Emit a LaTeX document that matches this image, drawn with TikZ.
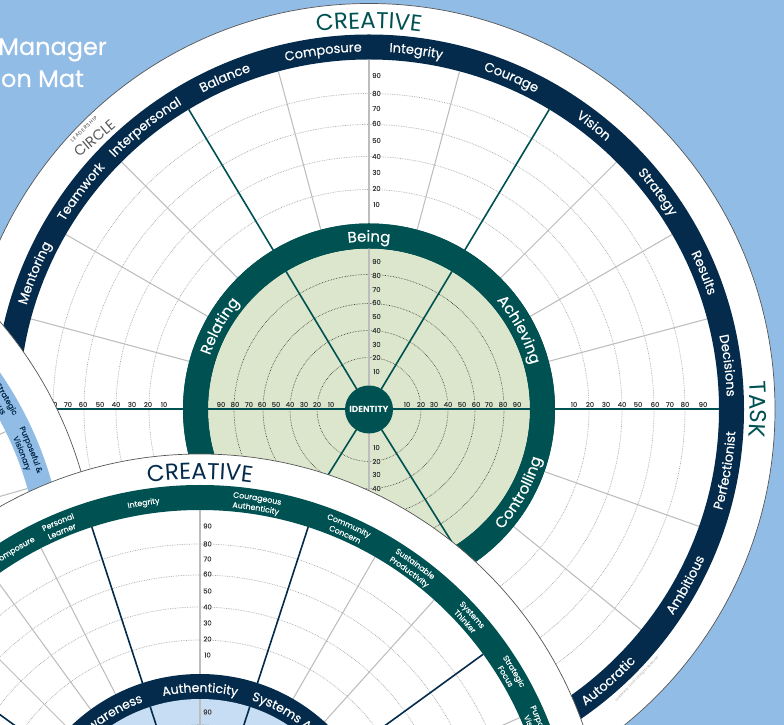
\documentclass[tikz,border=0pt]{standalone}
\usepackage{fontspec}
\setmainfont{Poppins}
\newfontfamily\medf[FakeBold=0.35]{Poppins}
\newfontfamily\logof[LetterSpace=16]{Poppins}
\usetikzlibrary{decorations.text,calc}
\definecolor{skyb}{HTML}{91BCE6}
\definecolor{navyb}{HTML}{052B4C}
\definecolor{tealb}{HTML}{005252}
\definecolor{greend}{HTML}{DBE6CC}
\definecolor{blued}{HTML}{C6DDF3}
\definecolor{grayl}{HTML}{BDBDBD}
\definecolor{grayd}{HTML}{A8A8A8}
\definecolor{outl}{HTML}{555555}
\definecolor{scalet}{HTML}{3A3A3A}
\tikzset{
  x=1pt,y=1pt,
  outerdisc/.style={fill=white,draw=outl,line width=.7pt},
  dotarc/.style={draw=grayd,line width=.7pt,densely dotted},
  dotdark/.style={draw=black!80,line width=.6pt,densely dotted},
  spokegray/.style={draw=grayl,line width=1.05pt},
  scalelab/.style={font=\medf\fontsize{6.8}{7}\selectfont,text=scalet,inner sep=.6pt}
}
% centre, radius, mid angle, size, colour, text: reads clockwise
\newcommand{\cwtext}[6]{\path[decorate,decoration={text along path,text align=center,text color=#5,text={|\medf\fontsize{#4}{#4}\selectfont|#6}}]
  ($(#1)+(#3+40:#2)$) arc[start angle=#3+40,end angle=#3-40,radius=#2];}
% same, reads counter-clockwise
\newcommand{\ccwtext}[6]{\path[decorate,decoration={text along path,text align=center,text color=#5,text={|\medf\fontsize{#4}{#4}\selectfont|#6}}]
  ($(#1)+(#3-40:#2)$) arc[start angle=#3-40,end angle=#3+40,radius=#2];}
% light heading, reads clockwise
\newcommand{\headtext}[5]{\path[decorate,decoration={text along path,text align=center,text color=#4,text={|\fontsize{23}{23}\selectfont|#5}}]
  ($(#1)+(#3+40:#2)$) arc[start angle=#3+40,end angle=#3-40,radius=#2];}
% disc with its rings: centre, outer ring colour, inner ring colour, inner disc colour, bold spoke colour, gray spokes, bold spokes
\newcommand{\wheel}[7]{
  \fill[outerdisc] (#1) circle (406);
  \foreach \r in {220,253,285,316} \draw[dotarc] (#1) circle (\r);
  \foreach \a in {#6} \draw[spokegray] ($(#1)+(\a:161)$) -- ($(#1)+(\a:350)$);
  \foreach \a in {#7} {\draw[#5,line width=1.6pt] ($(#1)+(\a:186)$) -- ($(#1)+(\a:350)$);}
  \fill[#2,even odd rule] (#1) circle (375) circle (350);
  \fill[#3] (#1) circle (186);
  \fill[#4] (#1) circle (161);
  \foreach \r in {52,79,106,135} \draw[dotdark] (#1) circle (\r);
  \draw[spokegray] ($(#1)+(0,24)$) -- ($(#1)+(0,161)$);
  \draw[spokegray] ($(#1)+(0,-24)$) -- ($(#1)+(0,-161)$);
  \foreach \a in {#7} {\draw[#5,line width=1.6pt] ($(#1)+(\a:24)$) -- ($(#1)+(\a:161)$);}
}
\begin{document}
\begin{tikzpicture}
\useasboundingbox (0,0) rectangle (784,725);
\clip (0,0) rectangle (784,725);
\fill[skyb] (0,0) rectangle (784,725);
\coordinate (big) at (369,315.5);
\coordinate (lft) at (-309,140);
\coordinate (frt) at (200,-135);
% title
\node[anchor=base east,text=white,inner sep=0,font=\medf\fontsize{24}{26}\selectfont] (t1) at (107,670) {Manager};
\node[anchor=base east,text=white,inner sep=0,font=\medf\fontsize{24}{26}\selectfont] (t2) at (84,638) {on Mat};
% ---------- main wheel
\wheel{big}{navyb}{tealb}{greend}{tealb}{15,30,45,75,90,105,135,150,165,-19.5,-39}{59,121,-58,-122}
\foreach \v/\r in {10/205,20/221,30/237,40/253,50/269,60/286,70/301,80/316,90/334} {
  \node[scalelab,fill=white] at ($(big)+(7.5,\r)$) {\v};
  \node[scalelab,fill=white] at ($(big)+(\r,5)$) {\v};
}
\foreach \v/\r in {10/205,20/221,30/237,40/253,50/269,60/286,70/301,80/316}
  \node[scalelab,fill=white] at ($(big)+(-\r,5)$) {\v};
\foreach \v/\r in {10/38,20/52,30/65,40/79,50/93,60/107,70/120,80/134,90/148} {
  \node[scalelab,fill=greend] at ($(big)+(7.5,\r)$) {\v};
  \node[scalelab,fill=greend] at ($(big)+(\r,5)$) {\v};
  \node[scalelab,fill=greend] at ($(big)+(-\r,5)$) {\v};
}
\foreach \v/\r in {10/38,20/52,30/65,40/79}
  \node[scalelab,fill=greend] at ($(big)+(7.5,-\r)$) {\v};
\draw[tealb,line width=2.2pt] ($(big)+(24,.3)$) -- ($(big)+(350,.3)$);
\draw[tealb,line width=2.2pt] ($(big)+(-24,.3)$) -- ($(big)+(-350,.3)$);
\fill[tealb] (big) circle (24);
\node[text=white,inner sep=0,font=\fontsize{8.8}{9}\selectfont\bfseries] (idn) at (big) {IDENTITY};
\fill[tealb,even odd rule] (big) circle (186) circle (161);
\headtext{big}{381}{90}{tealb}{CREATIVE}
\headtext{big}{381}{0}{tealb}{TASK}
\foreach \l/\a in {Composure/97.3,Integrity/82.5,Courage/66.8,Vision/51.6,Strategy/37,Results/22.2,Decisions/7,Balance/113.5,Interpersonal/128.4,Teamwork/142.9,Mentoring/157.8}
  {\cwtext{big}{358}{\a}{13}{white}{\l}}
\foreach \l/\a in {Perfectionist/-9.7,Ambitious/-29,Autocratic/-48.6}
  {\ccwtext{big}{367}{\a}{13}{white}{\l}}
\foreach \l/\a in {Being/90,Relating/150.8,Achieving/28}
  {\cwtext{big}{168}{\a}{15}{white}{\l}}
\ccwtext{big}{179}{-29}{15}{white}{Controlling}
\node[rotate=46,inner sep=0,text=black!35,font=\fontsize{3.2}{3}\selectfont] (cpy) at (637,46) {Leadership Circle | All Rights Reserved};
\node[rotate=44,inner sep=0,text=black!75,font=\logof\fontsize{5}{6}\selectfont] (lg1) at (84,596) {LEADERSHIP};
\node[rotate=40,inner sep=0,text=black!65,font=\fontsize{14.5}{15}\selectfont] (lg2) at (94.5,586.5) {CIRCLE};
% ---------- left wheel
\wheel{lft}{skyb}{navyb}{blued}{navyb}{16,26}{36}
\cwtext{lft}{364}{30.5}{7.8}{navyb}{Strategic}
\cwtext{lft}{354}{30.5}{7.8}{navyb}{Focus}
\cwtext{lft}{364}{21.7}{7.8}{navyb}{Purposeful {\&}}
\cwtext{lft}{354}{21.7}{7.8}{navyb}{Visionary}
% ---------- front wheel
\wheel{frt}{tealb}{navyb}{blued}{navyb}{90,60,48,24,12,117,126,135}{72,108,36,144}
\foreach \v/\r in {10/205,20/221,30/237,40/253,50/269,60/286,70/301,80/316,90/334}
  \node[scalelab,fill=white] at ($(frt)+(7.5,\r)$) {\v};
\node[scalelab,fill=blued] at ($(frt)+(7.5,148)$) {90};
\headtext{frt}{381}{90}{navyb}{CREATIVE}
\cwtext{frt}{359}{99}{7.8}{white}{Integrity}
\cwtext{frt}{359}{121}{7.8}{white}{Composure}
\cwtext{frt}{364}{112.8}{7.8}{white}{Personal}
\cwtext{frt}{354}{112.8}{7.8}{white}{Learner}
\cwtext{frt}{364}{81}{7.8}{white}{Courageous}
\cwtext{frt}{354}{81}{7.8}{white}{Authenticity}
\cwtext{frt}{364}{66}{7.8}{white}{Community}
\cwtext{frt}{354}{66}{7.8}{white}{Concern}
\cwtext{frt}{364}{54}{7.8}{white}{Sustainable}
\cwtext{frt}{354}{54}{7.8}{white}{Productivity}
\cwtext{frt}{364}{42}{7.8}{white}{Systems}
\cwtext{frt}{354}{42}{7.8}{white}{Thinker}
\cwtext{frt}{364}{31}{7.8}{white}{Strategic}
\cwtext{frt}{354}{31}{7.8}{white}{Focus}
\cwtext{frt}{364}{21}{7.8}{white}{Purposeful {\&}}
\cwtext{frt}{354}{21}{7.8}{white}{Visionary}
\cwtext{frt}{168}{90}{12.5}{white}{Authenticity}
\cwtext{frt}{168}{120}{12.5}{white}{wareness}
\cwtext{frt}{168}{51}{12.5}{white}{Systems Awareness}
\end{tikzpicture}
\end{document}
